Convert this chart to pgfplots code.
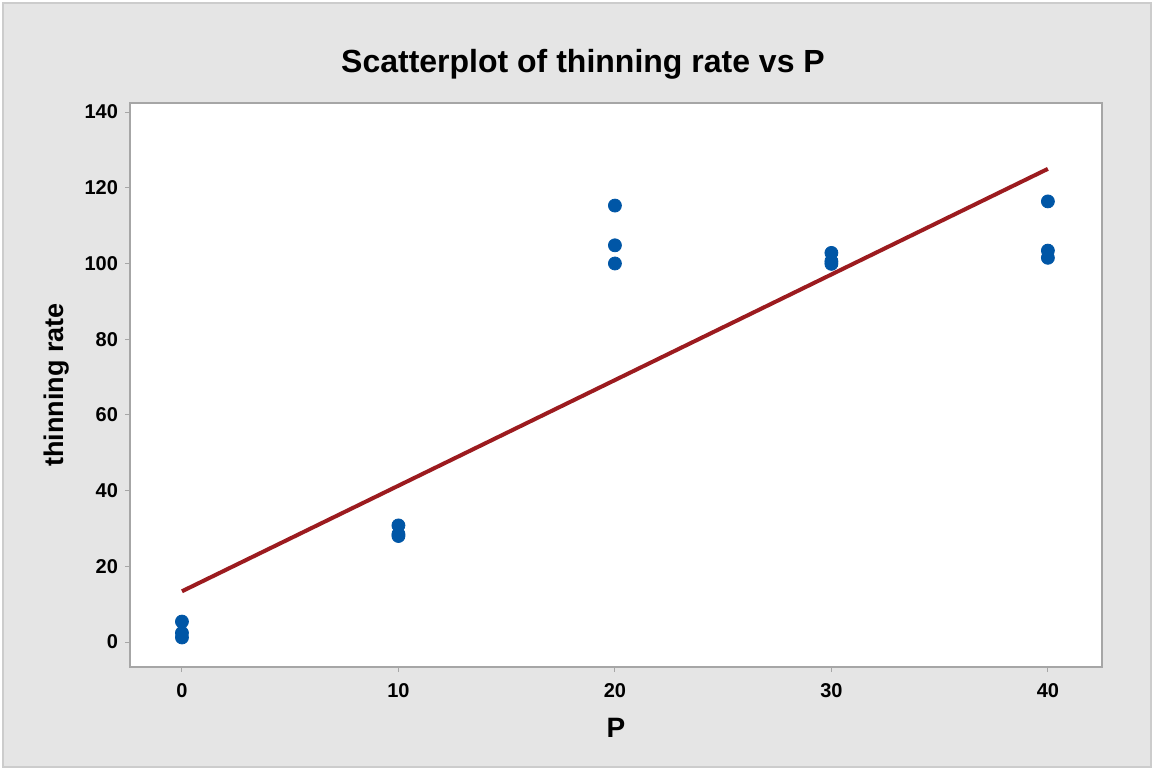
\documentclass[border=0pt]{standalone}
\usepackage{pgfplots}
\pgfplotsset{compat=1.18}
\usepackage{fontspec}
\setmainfont{Liberation Sans}
\definecolor{panel}{HTML}{E5E5E5}
\definecolor{frame}{HTML}{A6A6A6}
\definecolor{dotblue}{HTML}{0056A6}
\definecolor{fitred}{HTML}{9C1B1F}

\pgfplotstableread{
P rate
0 5.4
0 2.4
0 1.2
10 30.8
10 28.5
10 28.0
20 115.3
20 104.8
20 100.0
30 102.8
30 100.6
30 99.9
40 116.4
40 103.4
40 101.5
}\thinning

\begin{document}
\begin{tikzpicture}
% page and grey panel
\fill[white] (-65pt,-51.5pt) rectangle (512pt,333.5pt);
\filldraw[fill=panel, draw=black!20, line width=0.6pt] (-63.5pt,-50pt) rectangle (510.5pt,332pt);
\begin{axis}[
  scale only axis,
  width=486pt, height=282pt,
  xmin=-2.4, xmax=42.5,
  ymin=-6.6, ymax=142.4,
  axis background/.style={fill=white},
  axis line style={frame, line width=0.6pt},
  xtick={0,10,20,30,40},
  ytick={0,20,40,60,80,100,120,140},
  tick align=outside,
  xtick pos=bottom, ytick pos=left,
  major tick length=2.5pt,
  tick style={frame, line width=0.5pt},
  /pgf/number format/assume math mode=true,
  tick label style={font=\bfseries\fontsize{10}{12}\selectfont},
  xticklabel style={yshift=-2pt},
  title={Scatterplot of thinning rate vs P},
  title style={font=\bfseries\fontsize{16}{19}\selectfont, at={(axis description cs:0.5,1)}, anchor=base, yshift=9pt, xshift=-16.5pt},
  xlabel={P},
  xlabel style={font=\bfseries\fontsize{14}{16}\selectfont, at={(axis description cs:0.5,-0.108)}, anchor=center},
  ylabel={thinning rate},
  ylabel style={font=\bfseries\fontsize{13.5}{16}\selectfont, at={(axis description cs:-0.0751,0.5)}, anchor=center},
  clip=false,
]
\addplot[only marks, mark=*, mark size=3.25pt, mark options={fill=dotblue, draw=dotblue}] table[x=P, y=rate] {\thinning};
\addplot[fitred, line width=2pt] coordinates {(0,13.4) (40,125.0)};
\end{axis}
\end{tikzpicture}
\end{document}
